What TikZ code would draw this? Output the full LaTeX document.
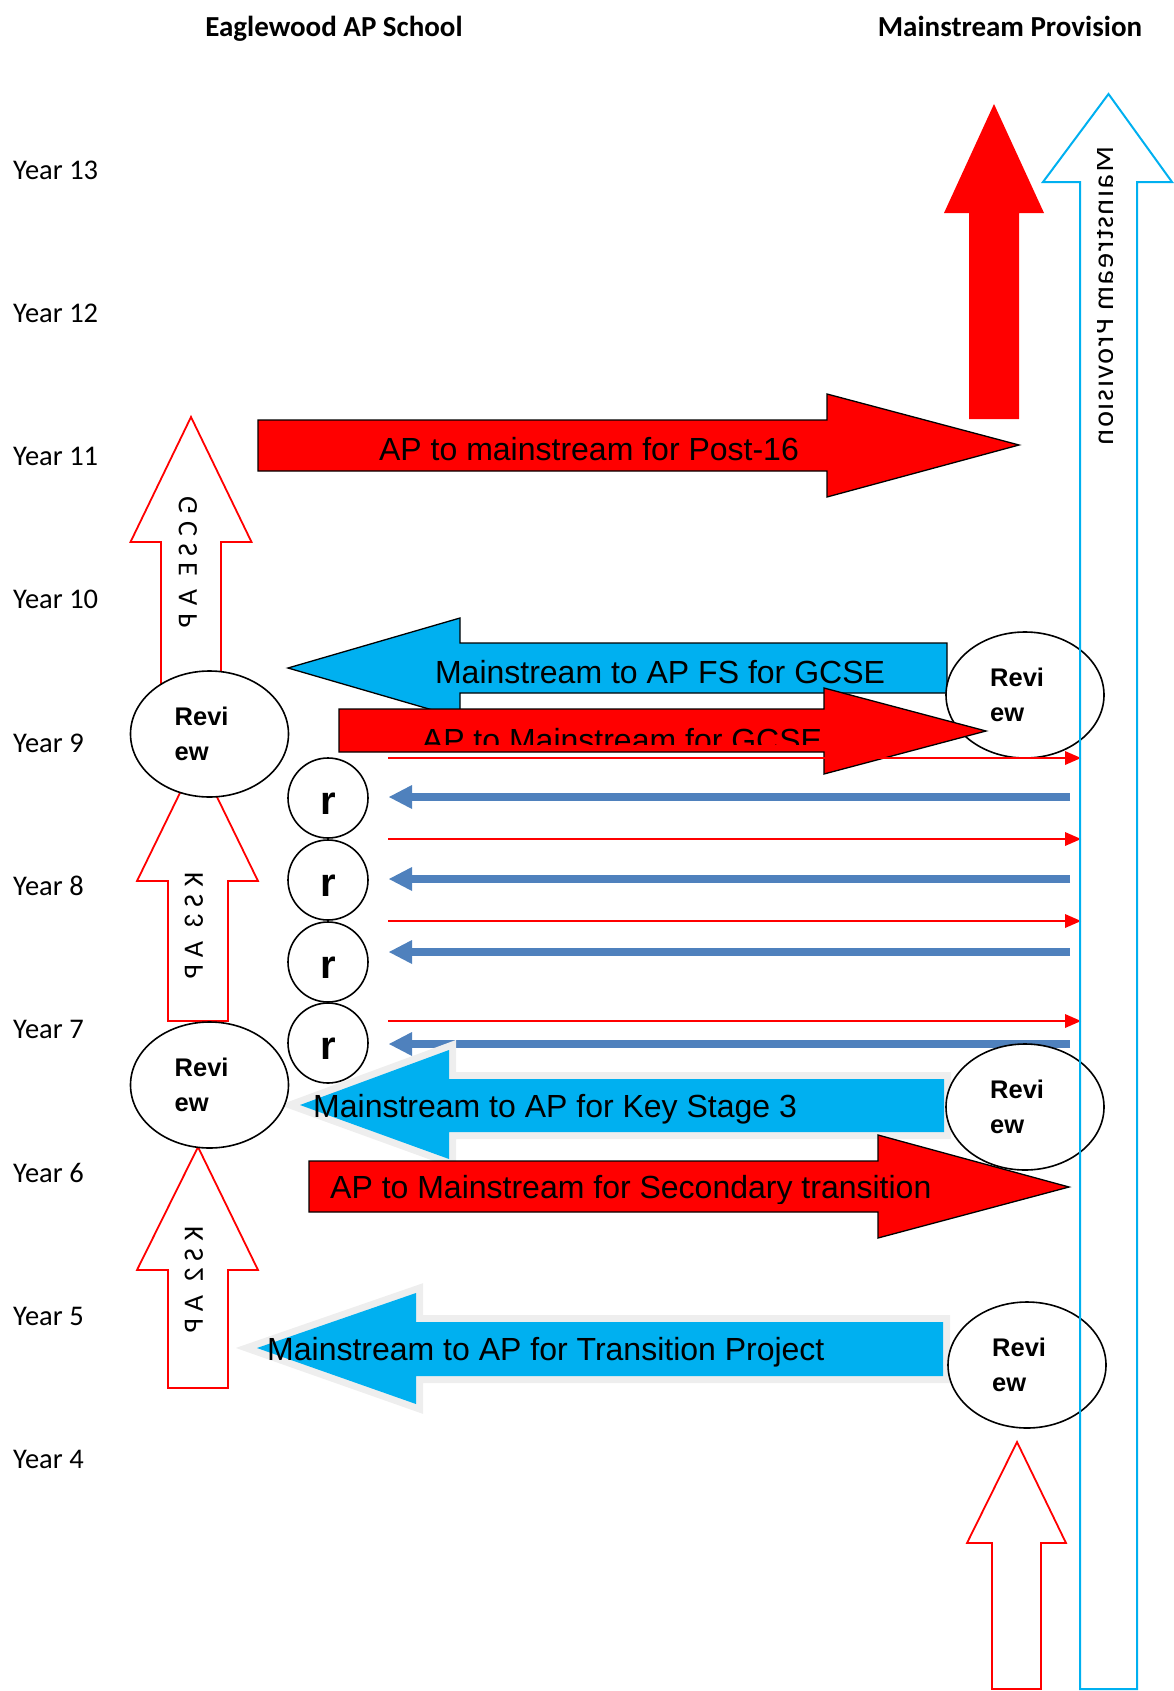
\documentclass[tikz,border=0pt]{standalone}
\usepackage{graphicx}
\usepackage{fontspec}
\setmainfont{Carlito}
\newfontfamily\arialfont{Liberation Sans}
\newfontfamily\vertfont[LetterSpace=25]{Carlito}
\newfontfamily\vertfontb[LetterSpace=6]{Carlito}
\usepackage{tikz}
\usetikzlibrary{arrows.meta,shapes.geometric}

\definecolor{apred}{RGB}{255,0,0}
\definecolor{mscyan}{RGB}{0,176,240}
\definecolor{linkblue}{RGB}{79,129,189}
\definecolor{shadowgray}{RGB}{238,238,238}

\tikzset{
  yearlabel/.style={anchor=base west, inner sep=0pt, font=\fontsize{28.5}{34}\selectfont},
  heading/.style={anchor=base, inner sep=0pt, font=\bfseries\fontsize{29}{35}\selectfont},
  uparrow/.style={draw=apred, line width=1.8pt, fill=white, line join=miter},
  apblock/.style={draw=black, line width=1.3pt, fill=apred, line join=miter},
  msblock/.style={draw=black, line width=1.3pt, fill=mscyan, line join=miter},
  msshadow/.style={draw=shadowgray, line width=14pt, line join=miter},
  blocktext/.style={inner sep=0pt, font=\arialfont\fontsize{32}{38}\selectfont},
  review/.style={draw, ellipse, line width=1.6pt, fill=white, minimum width=158pt, minimum height=126pt, inner sep=0pt},
  reviewtext/.style={anchor=west, align=left, inner sep=0pt, font=\arialfont\bfseries\fontsize{25.5}{35}\selectfont},
  rcircle/.style={draw, circle, line width=1.6pt, fill=white, minimum size=80pt, inner sep=0pt, text height=32pt, text depth=0pt, font=\arialfont\bfseries\fontsize{40}{40}\selectfont},
  vlabel/.style={rotate=-90, inner sep=0pt, font=\vertfont\fontsize{28}{34}\selectfont},
  vlabelb/.style={rotate=-90, inner sep=0pt, font=\vertfontb\fontsize{30}{34}\selectfont},
  redlink/.style={apred, line width=2pt, -{Triangle[length=16pt,width=14pt,line width=0pt]}},
  bluelink/.style={linkblue, line width=8pt, -{Triangle[length=23pt,width=24pt,line width=0pt]}}
}

\begin{document}
\begin{tikzpicture}[x=1pt,y=-1pt]
  \useasboundingbox (0,0) rectangle (1173,1691);

  \draw[uparrow] (191,417) -- (251.5,542) -- (221,542) -- (221,730) -- (161,730) -- (161,542) -- (130.5,542) -- cycle;
  \node[vlabel] (gcseap) at (188,562) {\scalebox{1}[-1]{GCSE AP}};
  \draw[uparrow] (197.5,757) -- (258,881) -- (228,881) -- (228,1021) -- (168,1021) -- (168,881) -- (137,881) -- cycle;
  \node[vlabel] (ksthree) at (194,926) {\scalebox{1}[-1]{KS3 AP}};
  \draw[uparrow] (198,1147) -- (258,1270) -- (228,1270) -- (228,1388) -- (168,1388) -- (168,1270) -- (137,1270) -- cycle;
  \node[vlabel] (kstwo) at (194,1280) {\scalebox{1}[-1]{KS2 AP}};

  \fill[apred] (994,104) -- (1044,213) -- (1019,213) -- (1019,419) -- (969,419) -- (969,213) -- (944,213) -- cycle;
  \draw[uparrow] (1017,1442) -- (1066,1543) -- (1041,1543) -- (1041,1689) -- (992,1689) -- (992,1543) -- (967,1543) -- cycle;

  \draw[apblock] (258,420) -- (827,420) -- (827,394) -- (1019,445) -- (827,497) -- (827,471) -- (258,471) -- cycle;
  \node[blocktext, anchor=base] (postsixteen) at (589,460) {AP to mainstream for Post-16};

  \draw[msblock] (288,668) -- (460,618) -- (460,643) -- (947,643) -- (947,693) -- (460,693) -- (460,718) -- cycle;
  \node[blocktext, anchor=base] (fsgcse) at (660,683) {Mainstream to AP FS for GCSE};

  \node[review] (revR9) at (1025,695) {};
  \node[reviewtext] (revR9t) at ([xshift=-35pt]revR9.center) {Revi\\ew};

  \draw[apblock] (339,709) -- (824,709) -- (824,688) -- (986,731) -- (824,774) -- (824,752) -- (339,752) -- cycle;
  \begin{scope}
    \clip (339,700) rectangle (824,744);
    \node[blocktext, anchor=base] (gcse) at (622,751) {AP to Mainstream for GCSE};
  \end{scope}

  \node[review] (revL9) at (209.5,734) {};
  \node[reviewtext] (revL9t) at ([xshift=-35pt]revL9.center) {Revi\\ew};

  \foreach \i/\y in {1/798,2/880,3/962,4/1043}
    \node[rcircle] (r\i) at (328,\y) {r};

  \foreach \i/\y in {1/758,2/839,3/921,4/1021}
  {
    \coordinate (rs\i) at (388,\y);
    \coordinate (re\i) at (1081,\y);
    \draw[redlink] (rs\i) -- (re\i);
  }
  \foreach \i/\y in {1/797,2/879,3/952,4/1044}
  {
    \coordinate (bs\i) at (1070,\y);
    \coordinate (be\i) at (389,\y);
    \draw[bluelink] (bs\i) -- (be\i);
  }

  \draw[msshadow] (300,1105) -- (449,1050) -- (449,1079) -- (944,1079) -- (944,1132) -- (449,1132) -- (449,1159) -- cycle;
  \fill[mscyan] (300,1105) -- (449,1050) -- (449,1079) -- (944,1079) -- (944,1132) -- (449,1132) -- (449,1159) -- cycle;
  \node[blocktext, anchor=base west] (keystage) at (313,1117) {Mainstream to AP for Key Stage 3};

  \node[review] (revL7) at (209.5,1085) {};
  \node[reviewtext] (revL7t) at ([xshift=-35pt]revL7.center) {Revi\\ew};

  \draw[apblock] (309,1161) -- (878,1161) -- (878,1135) -- (1069,1187) -- (878,1238) -- (878,1212) -- (309,1212) -- cycle;
  \node[review] (revR7) at (1025,1107) {};
  \node[reviewtext] (revR7t) at ([xshift=-35pt]revR7.center) {Revi\\ew};
  \begin{scope}
    \clip (309,1150) rectangle (1069,1203);
    \node[blocktext, anchor=base west] (secondary) at (330,1198) {AP to Mainstream for Secondary transition};
  \end{scope}

  \draw[msshadow] (257,1348) -- (416,1293) -- (416,1322) -- (943,1322) -- (943,1376) -- (416,1376) -- (416,1404) -- cycle;
  \fill[mscyan] (257,1348) -- (416,1293) -- (416,1322) -- (943,1322) -- (943,1376) -- (416,1376) -- (416,1404) -- cycle;
  \node[blocktext, anchor=base west] (transition) at (267,1360) {Mainstream to AP for Transition Project};

  \node[review] (revR5) at (1027,1365) {};
  \node[reviewtext] (revR5t) at ([xshift=-35pt]revR5.center) {Revi\\ew};

  \draw[mscyan, line width=2pt, line join=miter] (1108.5,94) -- (1172,182) -- (1137,182) -- (1137,1689) -- (1080,1689) -- (1080,182) -- (1043,182) -- cycle;
  \begin{scope}
    \clip (1097,130) rectangle (1112,460);
    \node[vlabelb] (msprov) at (1103,296) {\scalebox{1}[-1]{Mainstream Provision}};
  \end{scope}

  \node[heading] (apschool) at (334,37) {Eaglewood AP School};
  \node[heading] (mainstream) at (1010,37) {Mainstream Provision};

  \foreach \n [count=\k from 0] in {13,12,...,4}
    \node[yearlabel] (year\n) at (13,{179+143.3*\k}) {Year \n};
\end{tikzpicture}
\end{document}
